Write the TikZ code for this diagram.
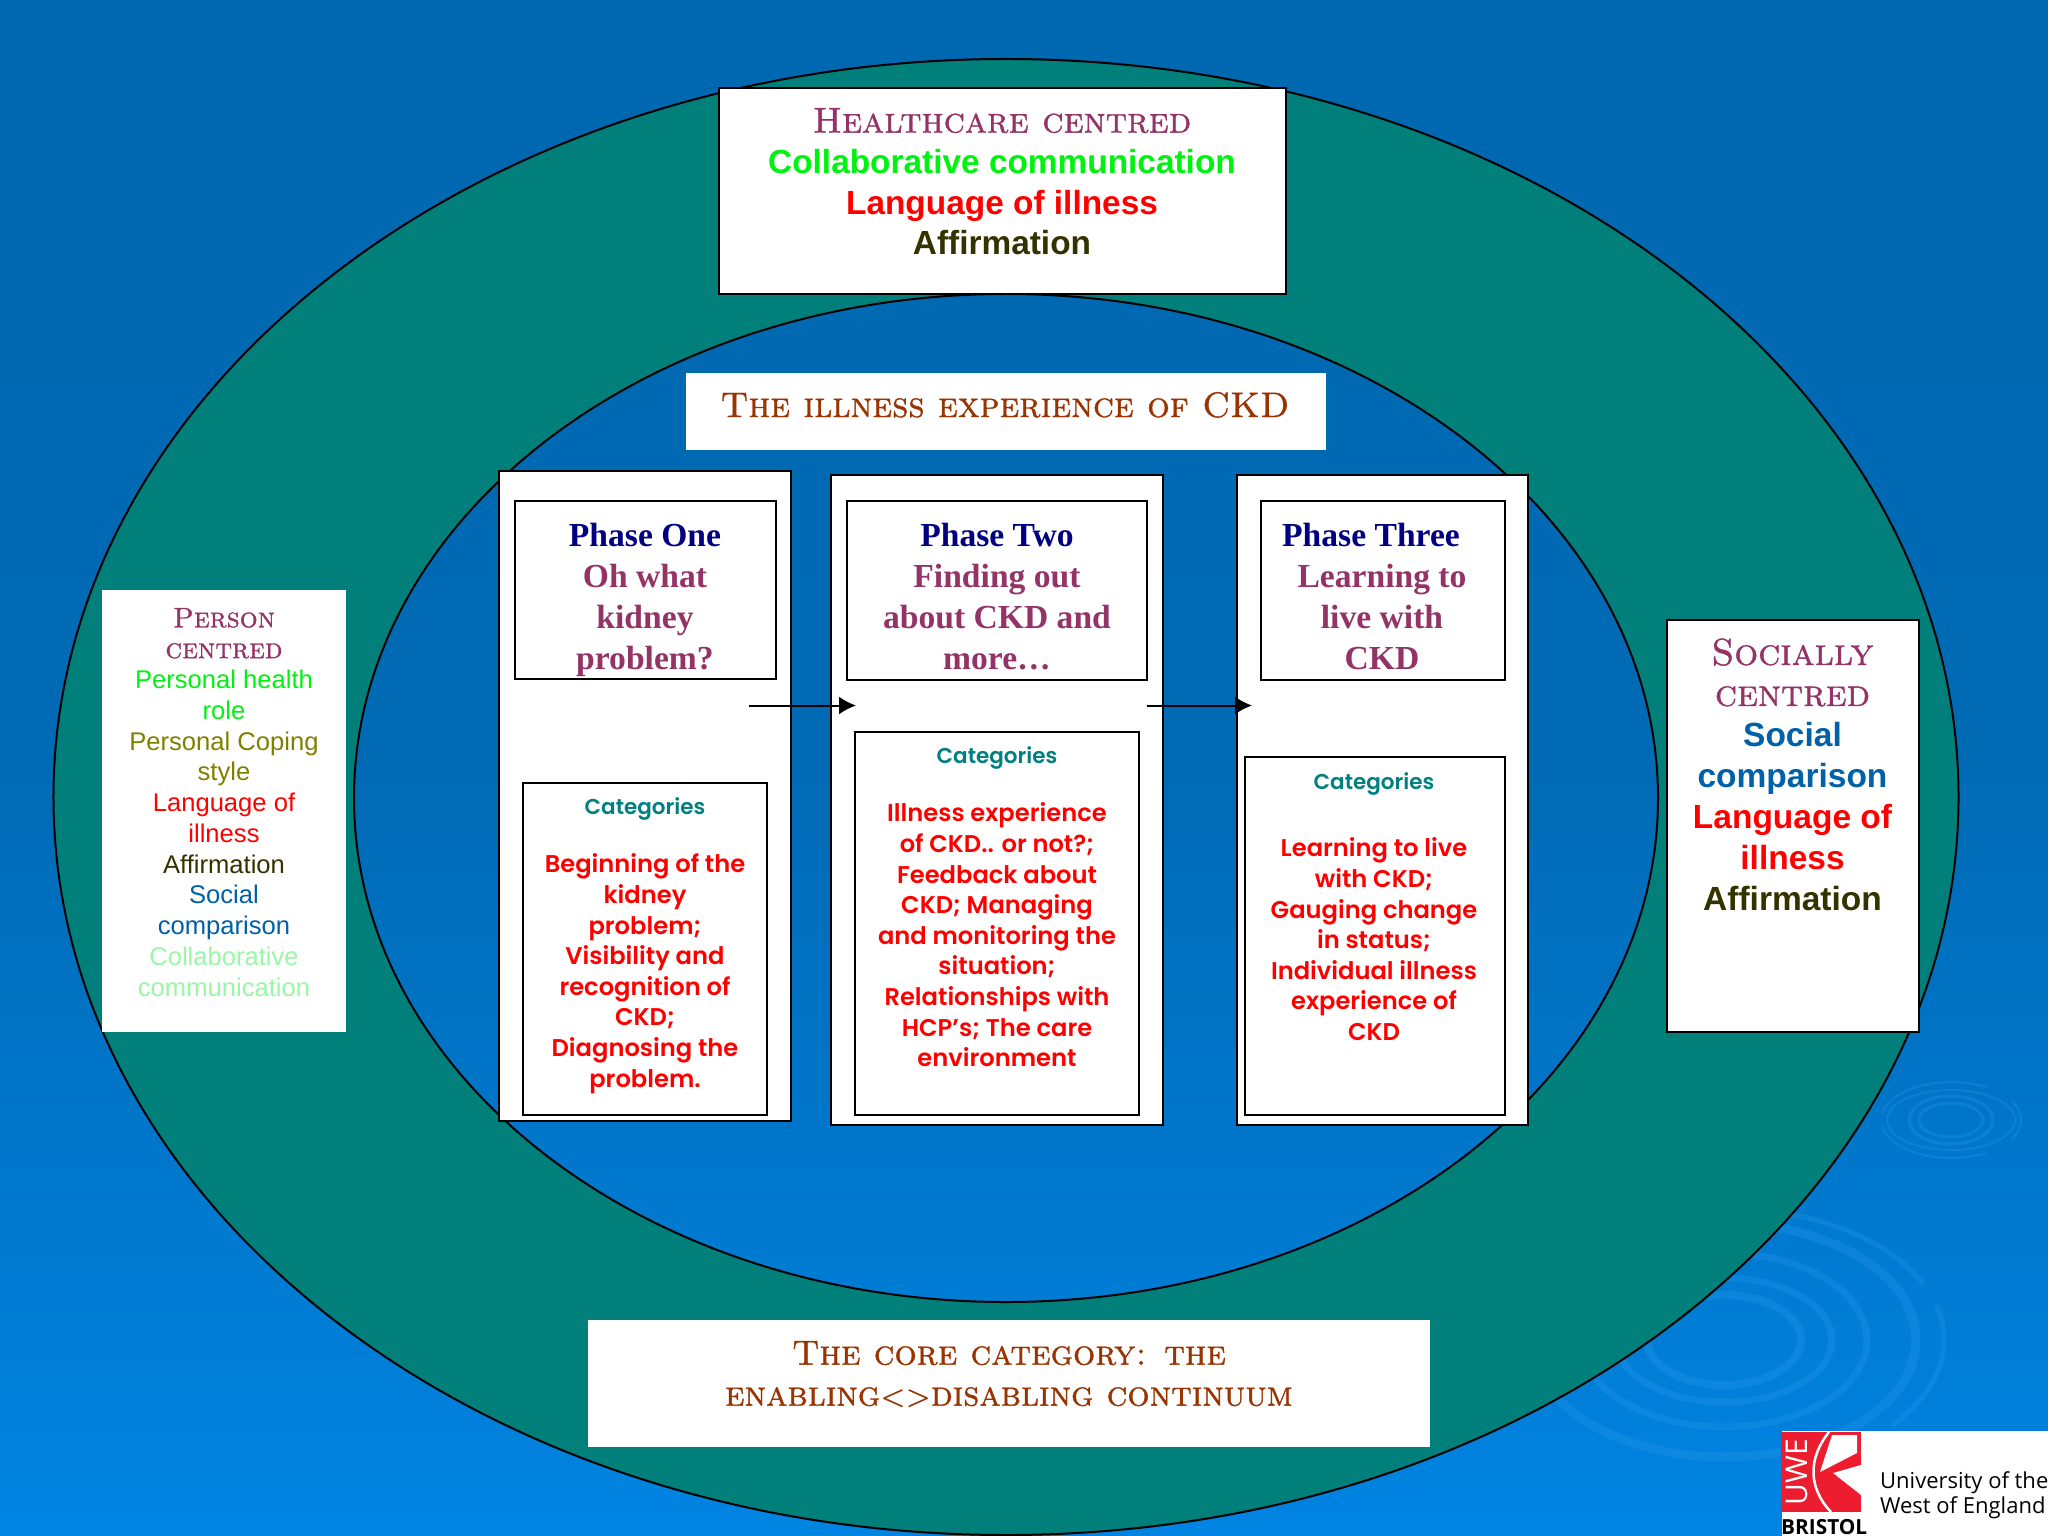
\documentclass[tikz,border=0pt]{standalone}
\usepackage{fontspec}
\usetikzlibrary{arrows.meta,shapes.geometric}
\setmainfont{Liberation Sans}
\newfontfamily\copfont[FakeBold=1]{Latin Modern Roman Caps}
\newfontfamily\phasefont{Liberation Serif}
\newfontfamily\gothfont{Poppins SemiBold}
\newfontfamily\uwefont{Open Sans}
\definecolor{bgtop}{HTML}{0068B0}
\definecolor{bgmid}{HTML}{006AB5}
\definecolor{bgbot}{HTML}{0084E2}
\definecolor{ring}{HTML}{007F7B}
\definecolor{plum}{HTML}{933366}
\definecolor{navyt}{HTML}{000080}
\definecolor{limeg}{HTML}{00F210}
\definecolor{redt}{HTML}{FF0000}
\definecolor{darkol}{HTML}{333300}
\definecolor{olivet}{HTML}{808000}
\definecolor{bluet}{HTML}{0060A8}
\definecolor{paleg}{HTML}{99F7A5}
\definecolor{tealt}{HTML}{008080}
\definecolor{brownt}{HTML}{993300}
\definecolor{uwered}{HTML}{ED1C2E}
\definecolor{ripple}{HTML}{2E9BEE}
\newcommand{\fs}[2]{\fontsize{#1bp}{#2bp}\selectfont}
\newcommand{\boxat}[6]{\node[#1,minimum width=#5bp-#3bp,minimum height=#6bp-#4bp] (#2) at (#3,#4) {};}
\tikzset{
  x=1bp,y=-1bp,
  panel/.style={draw=black,line width=2.4bp,fill=white,inner sep=0pt,outer sep=0pt,anchor=north west},
  plainbox/.style={fill=white,inner sep=0pt,outer sep=0pt,anchor=north west},
  label/.style={align=center,anchor=north,inner sep=0pt,outer sep=0pt},
  copbig/.style={label,font=\copfont\fs{36}{41}},
  phasetext/.style={label,font=\phasefont\bfseries\fs{33.6}{41}},
  cathead/.style={label,font=\gothfont\fs{21.5}{30.6},text=tealt},
  cattext/.style={label,font=\gothfont\fs{24.2}{30.6},text=redt},
  sidesmall/.style={label,font=\fs{25.6}{30.75}},
  sidebig/.style={label,font=\bfseries\fs{33.5}{41}},
  flow/.style={draw=black,line width=2bp,-{Latex[length=17bp,width=18bp]}},
  rip/.style={draw=ripple,opacity=.28,line width=#1},
  ringline/.style={draw=black,line width=2bp,ellipse,inner sep=0pt,outer sep=0pt},
}
\begin{document}
\begin{tikzpicture}
\useasboundingbox (0,0) rectangle (2048,1536);
\clip (0,0) rectangle (2048,1536);
\shade[top color=bgtop,bottom color=bgbot,middle color=bgmid] (0,0) rectangle (2048,1536);
% ripples
\draw[rip=3bp] (1951,1120) ellipse (32 and 17);
\draw[rip=3bp] (1951,1120) ellipse (42 and 24);
\draw[rip=2bp] (1951,1120) ellipse (64 and 30);
\draw[rip=2bp] (1951,1120) ++(-170:70 and 38) arc[start angle=-170,end angle=-60,x radius=70,y radius=38];
\draw[rip=2bp] (1951,1120) ++(-30:70 and 38) arc[start angle=-30,end angle=30,x radius=70,y radius=38];
\draw[rip=2bp] (1951,1120) ++(60:70 and 38) arc[start angle=60,end angle=170,x radius=70,y radius=38];
\draw[rip=8bp] (1724,1340) ellipse (77 and 45);
\draw[rip=7bp] (1724,1340) ellipse (108 and 62);
\draw[rip=7bp] (1724,1340) ellipse (143 and 87);
\draw[rip=9bp] (1724,1340) ellipse (192 and 117);
\draw[rip=5bp] (1724,1340) ++(-100:220 and 132) arc[start angle=-100,end angle=-25,x radius=220,y radius=132];
\draw[rip=5bp] (1724,1340) ++(-15:220 and 132) arc[start angle=-15,end angle=40,x radius=220,y radius=132];
% rings
\path[fill=ring,even odd rule] (1006,797) ellipse (952.5 and 738) (1006,798) ellipse (652 and 504);
\node[ringline,minimum width=1905bp,minimum height=1476bp] (outer) at (1006,797) {};
\node[ringline,minimum width=1304bp,minimum height=1008bp] (inner) at (1006,798) {};
% top boxes
\boxat{panel}{health}{719}{88}{1286}{294}
\node[copbig,text=plum] (t1) at (1002,108) {Healthcare centred};
\node[sidebig,font=\bfseries\fs{33.4}{40.6}] (t2) at (1002,149.5) {\textcolor{limeg}{Collaborative communication}\\\textcolor{redt}{Language of illness}\\\textcolor{darkol}{Affirmation}};
\boxat{plainbox}{illness}{686}{373}{1326}{450}
\node[copbig,font=\copfont\fs{35.5}{41},text=brownt] (t3) at (1005,392) {The illness experience of CKD};
% phase panels
\boxat{panel}{p1}{499}{471}{791}{1121}
\boxat{panel}{p1t}{515}{501}{776}{679}
\boxat{panel}{p1c}{523}{783}{767}{1115}
\boxat{panel}{p2}{831}{475}{1163}{1125}
\boxat{panel}{p2t}{847}{501}{1147}{680}
\boxat{panel}{p2c}{855}{732}{1139}{1115}
\boxat{panel}{p3}{1237}{475}{1528}{1125}
\boxat{panel}{p3t}{1261}{501}{1505}{680}
\boxat{panel}{p3c}{1245}{757}{1505}{1115}
\node[phasetext] (t4) at (645,523.5) {\textcolor{navyt}{Phase One}\\\textcolor{plum}{Oh what}\\\textcolor{plum}{kidney}\\\textcolor{plum}{problem?}};
\node[phasetext] (t5) at (997,523.5) {\textcolor{navyt}{Phase Two}\\\textcolor{plum}{Finding out}\\\textcolor{plum}{about CKD and}\\\textcolor{plum}{more\ldots}};
\node[phasetext] (t6) at (1382,523.5) {\textcolor{navyt}{Phase Three\hspace{22bp}}\\\textcolor{plum}{Learning to}\\\textcolor{plum}{live with}\\\textcolor{plum}{CKD}};
\node[cathead] (c1a) at (645,798) {Categories};
\node[cattext] (c1b) at (645,854) {Beginning of the\\kidney\\problem;\\Visibility and\\recognition of\\CKD;\\Diagnosing the\\problem.};
\node[cathead] (c2a) at (997,747) {Categories};
\node[cattext] (c2b) at (997,803) {Illness experience\\of CKD.. or not?;\\Feedback about\\CKD; Managing\\and monitoring the\\situation;\\Relationships with\\HCP’s; The care\\environment};
\node[cathead] (c3a) at (1374,773) {Categories};
\node[cattext] (c3b) at (1374,838) {Learning to live\\with CKD;\\Gauging change\\in status;\\Individual illness\\experience of\\CKD};
% arrows
\coordinate (a1s) at (749,705.5);
\coordinate (a1e) at (856,705.5);
\coordinate (a2s) at (1147,705.5);
\coordinate (a2e) at (1252,705.5);
\draw[flow] (a1s) -- (a1e);
\draw[flow] (a2s) -- (a2e);
% side boxes
\boxat{plainbox}{left}{102}{590}{346}{1032}
\node[copbig,font=\copfont\fs{28.3}{30.8},text=plum] (t7) at (224,608) {Person\\centred};
\node[sidesmall] (t8) at (224,670) {\textcolor{limeg}{Personal health}\\\textcolor{limeg}{role}\\\textcolor{olivet}{Personal Coping}\\\textcolor{olivet}{style}\\\textcolor{redt}{Language of}\\\textcolor{redt}{illness}\\\textcolor{darkol}{Affirmation}\\\textcolor{bluet}{Social}\\\textcolor{bluet}{comparison}\\\textcolor{paleg}{Collaborative}\\\textcolor{paleg}{communication}};
\boxat{panel}{right}{1667}{620}{1919}{1032}
\node[copbig,font=\copfont\fs{37.5}{41},text=plum] (t9) at (1792.5,638.5) {Socially\\centred};
\node[sidebig] (t10) at (1792.5,722) {\textcolor{bluet}{Social}\\\textcolor{bluet}{comparison}\\\textcolor{redt}{Language of}\\\textcolor{redt}{illness}\\\textcolor{darkol}{Affirmation}};
% core
\boxat{plainbox}{core}{588}{1320}{1430}{1447}
\node[copbig,font=\copfont\fs{35}{41},text=brownt] (t11) at (1009,1341) {The core category: the\\enabling{\fs{30}{41}<>}disabling continuum};
% logo
\fill[white] (1782,1431) rectangle (2048,1536);
\fill[uwered] (1781,1432) rectangle (1861,1512);
\fill[white] (1820,1472) -- (1832,1435) -- (1857,1435) -- (1857,1453) -- cycle;
\fill[white] (1861,1465) -- (1833,1473) -- (1861,1495) -- cycle;
\draw[white,line width=2.5bp] (1829,1432) .. controls (1808,1458) and (1808,1488) .. (1831,1512);
\node[rotate=90,inner sep=0pt,text=white,font=\uwefont\fs{30}{30}] (uwe) at (1797,1472) {UWE};
\node[inner sep=0pt,anchor=base west,font=\uwefont\bfseries\fs{20.8}{21}] (bristol) at (1781,1534.5) {BRISTOL};
\node[inner sep=0pt,anchor=north west,align=left,font=\uwefont\fs{22}{25}] (uni) at (1880,1471) {University of the\\West of England};
\end{tikzpicture}
\end{document}
